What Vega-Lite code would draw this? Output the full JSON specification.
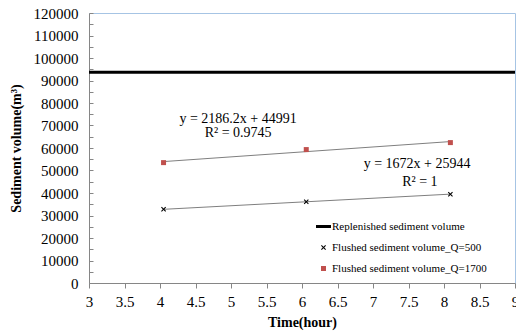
{
  "$schema": "https://vega.github.io/schema/vega-lite/v6.json",
  "width": 426,
  "height": 270,
  "autosize": {"type": "none"},
  "padding": {"left": 89, "top": 13, "right": 1, "bottom": 48},
  "config": {
    "view": {"stroke": "#A6C4E4", "strokeWidth": 1},
    "font": "Liberation Serif",
    "axis": {
      "grid": false,
      "domainColor": "#868686",
      "tickColor": "#868686",
      "labelFont": "Liberation Serif",
      "labelColor": "#000000",
      "labelFontSize": 15,
      "labelOverlap": false,
      "labelFlush": false,
      "titleFont": "Liberation Serif",
      "titleFontSize": 14,
      "titleFontWeight": "bold",
      "titleColor": "#000000"
    },
    "axisX": {"tickSize": 5, "labelPadding": 6, "titlePadding": 6},
    "axisY": {"tickSize": -4, "labelPadding": 15, "titlePadding": 10}
  },
  "datasets": {
    "points": [
      {"series": "Flushed sediment volume_Q=500", "x": 4.05, "y": 32750},
      {"series": "Flushed sediment volume_Q=500", "x": 6.06, "y": 36100},
      {"series": "Flushed sediment volume_Q=500", "x": 8.09, "y": 39500},
      {"series": "Flushed sediment volume_Q=1700", "x": 4.05, "y": 53500},
      {"series": "Flushed sediment volume_Q=1700", "x": 6.06, "y": 59300},
      {"series": "Flushed sediment volume_Q=1700", "x": 8.09, "y": 62400}
    ],
    "level": [{"series": "Replenished sediment volume", "y": 93700}],
    "notes": [
      {"x": 5.1, "y": 72900, "text": "y = 2186.2x + 44991"},
      {"x": 5.1, "y": 66700, "text": "R² = 0.9745"},
      {"x": 7.62, "y": 52900, "text": "y = 1672x + 25944"},
      {"x": 7.66, "y": 44900, "text": "R² = 1"}
    ]
  },
  "layer": [
    {
      "data": {"name": "level"},
      "mark": {"type": "rule", "strokeWidth": 3},
      "encoding": {
        "y": {
          "field": "y", "type": "quantitative",
          "scale": {"domain": [0, 120000], "nice": false, "zero": true},
          "title": "Sediment volume(m³)",
          "axis": {
            "values": [0,5000,10000,15000,20000,25000,30000,35000,40000,45000,50000,55000,60000,65000,70000,75000,80000,85000,90000,95000,100000,105000,110000,115000,120000],
            "labelExpr": "datum.value % 10000 === 0 ? '' + datum.value : ''"
          }
        },
        "color": {
          "field": "series", "type": "nominal",
          "scale": {
            "domain": ["Replenished sediment volume", "Flushed sediment volume_Q=500", "Flushed sediment volume_Q=1700"],
            "range": ["#000000", "#000000", "#C0504D"]
          },
          "legend": {
            "title": null, "orient": "none", "legendX": 229, "legendY": 208,
            "labelFont": "Liberation Serif", "labelFontSize": 11, "labelColor": "#000000",
            "symbolSize": 25, "rowPadding": 9, "labelOffset": 3, "padding": 0, "symbolStrokeWidth": 0
          }
        }
      }
    },
    {
      "data": {"name": "points"},
      "transform": [{"regression": "y", "on": "x", "groupby": ["series"]}],
      "mark": {"type": "line", "color": "#7F7F7F", "strokeWidth": 1},
      "encoding": {
        "x": {
          "field": "x", "type": "quantitative",
          "scale": {"domain": [3, 9], "nice": false, "zero": false},
          "title": "Time(hour)",
          "axis": {"values": [3,3.5,4,4.5,5,5.5,6,6.5,7,7.5,8,8.5,9], "format": "~g"}
        },
        "y": {
          "field": "y", "type": "quantitative",
          "scale": {"domain": [0, 120000], "nice": false, "zero": true},
          "title": "Sediment volume(m³)",
          "axis": {
            "values": [0,5000,10000,15000,20000,25000,30000,35000,40000,45000,50000,55000,60000,65000,70000,75000,80000,85000,90000,95000,100000,105000,110000,115000,120000],
            "labelExpr": "datum.value % 10000 === 0 ? '' + datum.value : ''"
          }
        },
        "detail": {"field": "series", "type": "nominal"}
      }
    },
    {
      "data": {"name": "points"},
      "mark": {"type": "point", "filled": true, "size": 25, "opacity": 1},
      "encoding": {
        "x": {
          "field": "x", "type": "quantitative",
          "scale": {"domain": [3, 9], "nice": false, "zero": false},
          "title": "Time(hour)",
          "axis": {"values": [3,3.5,4,4.5,5,5.5,6,6.5,7,7.5,8,8.5,9], "format": "~g"}
        },
        "y": {
          "field": "y", "type": "quantitative",
          "scale": {"domain": [0, 120000], "nice": false, "zero": true},
          "title": "Sediment volume(m³)",
          "axis": {
            "values": [0,5000,10000,15000,20000,25000,30000,35000,40000,45000,50000,55000,60000,65000,70000,75000,80000,85000,90000,95000,100000,105000,110000,115000,120000],
            "labelExpr": "datum.value % 10000 === 0 ? '' + datum.value : ''"
          }
        },
        "color": {"field": "series", "type": "nominal"},
        "shape": {
          "field": "series", "type": "nominal",
          "scale": {
            "domain": ["Replenished sediment volume", "Flushed sediment volume_Q=500", "Flushed sediment volume_Q=1700"],
            "range": ["M-3,-0.6H3V0.6H-3Z", "M-1,-0.7L-0.7,-1L0,-0.3L0.7,-1L1,-0.7L0.3,0L1,0.7L0.7,1L0,0.3L-0.7,1L-1,0.7L-0.3,0Z", "square"]
          },
          "legend": {
            "title": null, "orient": "none", "legendX": 229, "legendY": 208,
            "labelFont": "Liberation Serif", "labelFontSize": 11, "labelColor": "#000000",
            "symbolSize": 25, "rowPadding": 9, "labelOffset": 3, "padding": 0, "symbolStrokeWidth": 0
          }
        }
      }
    },
    {
      "data": {"name": "notes"},
      "mark": {"type": "text", "font": "Liberation Serif", "fontSize": 14, "color": "#000000", "align": "center", "baseline": "middle"},
      "encoding": {
        "x": {
          "field": "x", "type": "quantitative",
          "scale": {"domain": [3, 9], "nice": false, "zero": false},
          "title": "Time(hour)",
          "axis": {"values": [3,3.5,4,4.5,5,5.5,6,6.5,7,7.5,8,8.5,9], "format": "~g"}
        },
        "y": {
          "field": "y", "type": "quantitative",
          "scale": {"domain": [0, 120000], "nice": false, "zero": true},
          "title": "Sediment volume(m³)",
          "axis": {
            "values": [0,5000,10000,15000,20000,25000,30000,35000,40000,45000,50000,55000,60000,65000,70000,75000,80000,85000,90000,95000,100000,105000,110000,115000,120000],
            "labelExpr": "datum.value % 10000 === 0 ? '' + datum.value : ''"
          }
        },
        "text": {"field": "text", "type": "nominal"}
      }
    }
  ]
}
